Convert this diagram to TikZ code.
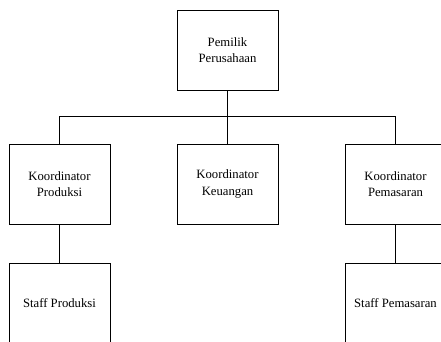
\documentclass[tikz,border=0pt]{standalone}
\usepackage{fontspec}
\setmainfont{Liberation Serif}
\begin{document}
\begin{tikzpicture}[x=1pt, y=-1pt, line width=0.8pt,
    every node/.style={font=\fontsize{12.7}{16.5}\selectfont},
    orgbox/.style={draw, minimum width=101pt, minimum height=80pt, align=center, inner sep=0pt}]
    \useasboundingbox (0,0) rectangle (441,341);
    \clip (0,0) rectangle (441,341);
    \node[orgbox] (owner) at (227.5,50) {Pemilik\\Perusahaan};
    \node[orgbox] (koorprod) at (59.5,184) {Koordinator\\Produksi};
    \node[orgbox] (koorkeu) at (227.5,184) {Koordinator\\Keuangan};
    \node[orgbox] (koorpem) at (395.5,184) {Koordinator\\Pemasaran};
    \node[orgbox] (staffprod) at (59.5,303) {Staff Produksi};
    \node[orgbox] (staffpem) at (395.5,303) {Staff Pemasaran};
    \draw (owner.south) -- (koorkeu.north);
    \draw (owner.south) -- ++(0,26) -| (koorprod.north);
    \draw (owner.south) -- ++(0,26) -| (koorpem.north);
    \draw (koorprod.south) -- (staffprod.north);
    \draw (koorpem.south) -- (staffpem.north);
\end{tikzpicture}
\end{document}
